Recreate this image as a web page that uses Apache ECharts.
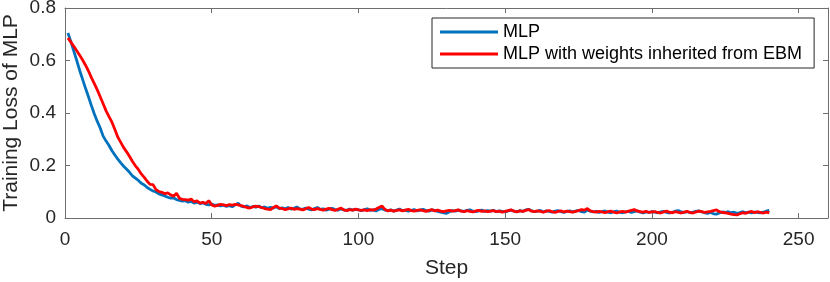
<!DOCTYPE html>
<html>
<head>
<meta charset="utf-8">
<script src="https://cdn.jsdelivr.net/npm/echarts@6/dist/echarts.min.js"></script>
<style>
html,body{margin:0;padding:0;background:#fff;}
#chart{width:830px;height:282px;}
</style>
</head>
<body>
<div id="chart"></div>
<script>
const seriesNames = ['MLP', 'MLP with weights inherited from EBM'];
const xTicks = [0, 50, 100, 150, 200, 250];
const yTicks = [0, 0.2, 0.4, 0.6, 0.8];

const mlpLoss = [
0.705,0.672,0.636,0.600,0.562,0.528,0.494,0.462,0.428,0.396,
0.368,0.343,0.312,0.293,0.276,0.256,0.240,0.224,0.210,0.197,
0.186,0.174,0.160,0.152,0.143,0.132,0.126,0.116,0.109,0.103,
0.099,0.092,0.088,0.084,0.079,0.076,0.077,0.070,0.067,0.064,
0.066,0.060,0.063,0.057,0.060,0.055,0.058,0.052,0.050,0.053,
0.048,0.050,0.046,0.049,0.044,0.047,0.043,0.050,0.056,0.045,
0.042,0.046,0.040,0.044,0.041,0.046,0.039,0.042,0.037,0.041,
0.038,0.043,0.036,0.039,0.035,0.040,0.034,0.037,0.042,0.035,
0.033,0.038,0.034,0.031,0.036,0.040,0.033,0.035,0.030,0.034,
0.037,0.032,0.030,0.035,0.031,0.029,0.034,0.030,0.033,0.031,
0.028,0.032,0.035,0.029,0.031,0.027,0.033,0.036,0.030,0.028,
0.031,0.026,0.030,0.034,0.028,0.030,0.026,0.029,0.032,0.027,
0.030,0.033,0.028,0.026,0.031,0.029,0.025,0.022,0.020,0.018,
0.024,0.028,0.026,0.030,0.027,0.025,0.029,0.031,0.026,0.024,
0.027,0.030,0.025,0.028,0.026,0.029,0.024,0.027,0.025,0.023,
0.027,0.030,0.026,0.024,0.028,0.025,0.031,0.033,0.027,0.024,
0.026,0.029,0.023,0.027,0.025,0.022,0.026,0.028,0.024,0.021,
0.025,0.027,0.023,0.026,0.029,0.024,0.022,0.031,0.026,0.023,
0.025,0.021,0.024,0.027,0.022,0.020,0.024,0.026,0.022,0.020,
0.023,0.025,0.021,0.024,0.027,0.022,0.019,0.023,0.021,0.024,
0.022,0.020,0.023,0.025,0.021,0.019,0.022,0.026,0.028,0.023,
0.021,0.024,0.020,0.022,0.025,0.027,0.023,0.020,0.018,0.021,
0.016,0.015,0.019,0.023,0.021,0.024,0.020,0.022,0.018,0.021,
0.024,0.020,0.022,0.019,0.023,0.021,0.020,0.022,0.026,0.029
];

const ebmLoss = [
0.686,0.670,0.654,0.637,0.620,0.602,0.582,0.560,0.535,0.512,
0.488,0.462,0.435,0.408,0.386,0.365,0.337,0.308,0.288,0.268,
0.252,0.234,0.215,0.199,0.185,0.168,0.155,0.140,0.128,0.127,
0.108,0.101,0.098,0.092,0.096,0.088,0.083,0.094,0.075,0.071,
0.070,0.068,0.072,0.062,0.065,0.057,0.060,0.055,0.066,0.050,
0.045,0.048,0.052,0.050,0.047,0.051,0.049,0.052,0.050,0.047,
0.044,0.040,0.038,0.042,0.045,0.043,0.040,0.036,0.034,0.032,
0.040,0.046,0.038,0.036,0.032,0.035,0.038,0.033,0.036,0.034,
0.031,0.035,0.040,0.034,0.032,0.036,0.033,0.030,0.034,0.037,
0.032,0.029,0.033,0.038,0.031,0.028,0.032,0.030,0.034,0.031,
0.029,0.031,0.028,0.032,0.030,0.034,0.040,0.046,0.033,0.027,
0.030,0.026,0.029,0.031,0.027,0.030,0.033,0.028,0.026,0.029,
0.031,0.028,0.025,0.029,0.032,0.027,0.030,0.026,0.024,0.027,
0.029,0.026,0.028,0.031,0.026,0.024,0.028,0.025,0.023,0.027,
0.029,0.025,0.027,0.024,0.026,0.028,0.024,0.026,0.022,0.025,
0.028,0.031,0.026,0.023,0.027,0.025,0.029,0.032,0.026,0.024,
0.027,0.025,0.022,0.026,0.028,0.024,0.021,0.025,0.027,0.023,
0.026,0.024,0.022,0.025,0.028,0.032,0.030,0.036,0.027,0.024,
0.022,0.025,0.023,0.020,0.024,0.026,0.022,0.019,0.023,0.025,
0.022,0.026,0.029,0.032,0.027,0.024,0.022,0.025,0.021,0.023,
0.024,0.021,0.019,0.023,0.026,0.022,0.020,0.024,0.021,0.019,
0.022,0.025,0.021,0.019,0.023,0.026,0.024,0.021,0.023,0.025,
0.028,0.031,0.024,0.021,0.020,0.018,0.015,0.013,0.012,0.016,
0.020,0.018,0.022,0.025,0.020,0.024,0.021,0.019,0.022,0.020
];

const FONT = '"Liberation Sans", Arial, Helvetica, sans-serif';
const TXT = '#262626';
const AX = '#6e6e6e';

const toPairs = arr => arr.map((v, i) => [i + 1, v]);

const xMax = 260;
const common = {
  axisLine: {show: true, onZero: false, lineStyle: {color: AX, width: 1}},
  axisTick: {show: true, inside: true, length: 5, lineStyle: {color: AX, width: 1}},
  splitLine: {show: false}
};

const chart = echarts.init(document.getElementById('chart'), null, {renderer: 'canvas'});
chart.setOption({
  animation: false,
  backgroundColor: '#ffffff',
  grid: {left: 65, top: 8, width: 763, height: 210, containLabel: false, outerBoundsMode: 'none'},
  legend: {
    orient: 'vertical',
    left: 432,
    top: 18,
    padding: [5, 12, 5, 8],
    icon: 'rect',
    itemWidth: 58,
    itemHeight: 3,
    itemGap: 4,
    borderColor: '#262626',
    borderWidth: 1,
    backgroundColor: '#fff',
    textStyle: {fontFamily: FONT, fontSize: 18, color: '#000', lineHeight: 18},
    data: seriesNames
  },
  xAxis: [
    Object.assign({}, common, {
      type: 'value', min: xTicks[0], max: xMax, interval: xTicks[1] - xTicks[0],
      position: 'bottom',
      name: 'Step', nameLocation: 'middle', nameGap: 40, nameMoveOverlap: false,
      nameTextStyle: {fontFamily: FONT, fontSize: 21, color: TXT},
      axisLabel: {
        fontFamily: FONT, fontSize: 19, color: TXT, margin: 12,
        showMaxLabel: false,
        formatter: v => (xTicks.indexOf(v) >= 0 ? String(v) : '')
      }
    }),
    Object.assign({}, common, {
      type: 'value', min: xTicks[0], max: xMax, interval: xTicks[1] - xTicks[0],
      position: 'top', axisLabel: {show: false}
    })
  ],
  yAxis: [
    Object.assign({}, common, {
      type: 'value', min: yTicks[0], max: yTicks[yTicks.length - 1], interval: yTicks[1] - yTicks[0],
      position: 'left',
      name: 'Training Loss of MLP', nameLocation: 'middle', nameGap: 43, nameMoveOverlap: false,
      nameTextStyle: {fontFamily: FONT, fontSize: 21, color: TXT},
      axisLabel: {fontFamily: FONT, fontSize: 19, color: TXT, margin: 9,
        formatter: v => String(Math.round(v * 10) / 10)}
    }),
    Object.assign({}, common, {
      type: 'value', min: yTicks[0], max: yTicks[yTicks.length - 1], interval: yTicks[1] - yTicks[0],
      position: 'right', axisLabel: {show: false}
    })
  ],
  series: [
    {
      name: seriesNames[0], type: 'line', data: toPairs(mlpLoss),
      symbol: 'none', color: '#0072BD',
      lineStyle: {width: 2.8, color: '#0072BD'}, z: 2
    },
    {
      name: seriesNames[1], type: 'line', data: toPairs(ebmLoss),
      symbol: 'none', color: '#FF0000',
      lineStyle: {width: 2.8, color: '#FF0000'}, z: 3
    }
  ]
});
</script>
</body>
</html>
